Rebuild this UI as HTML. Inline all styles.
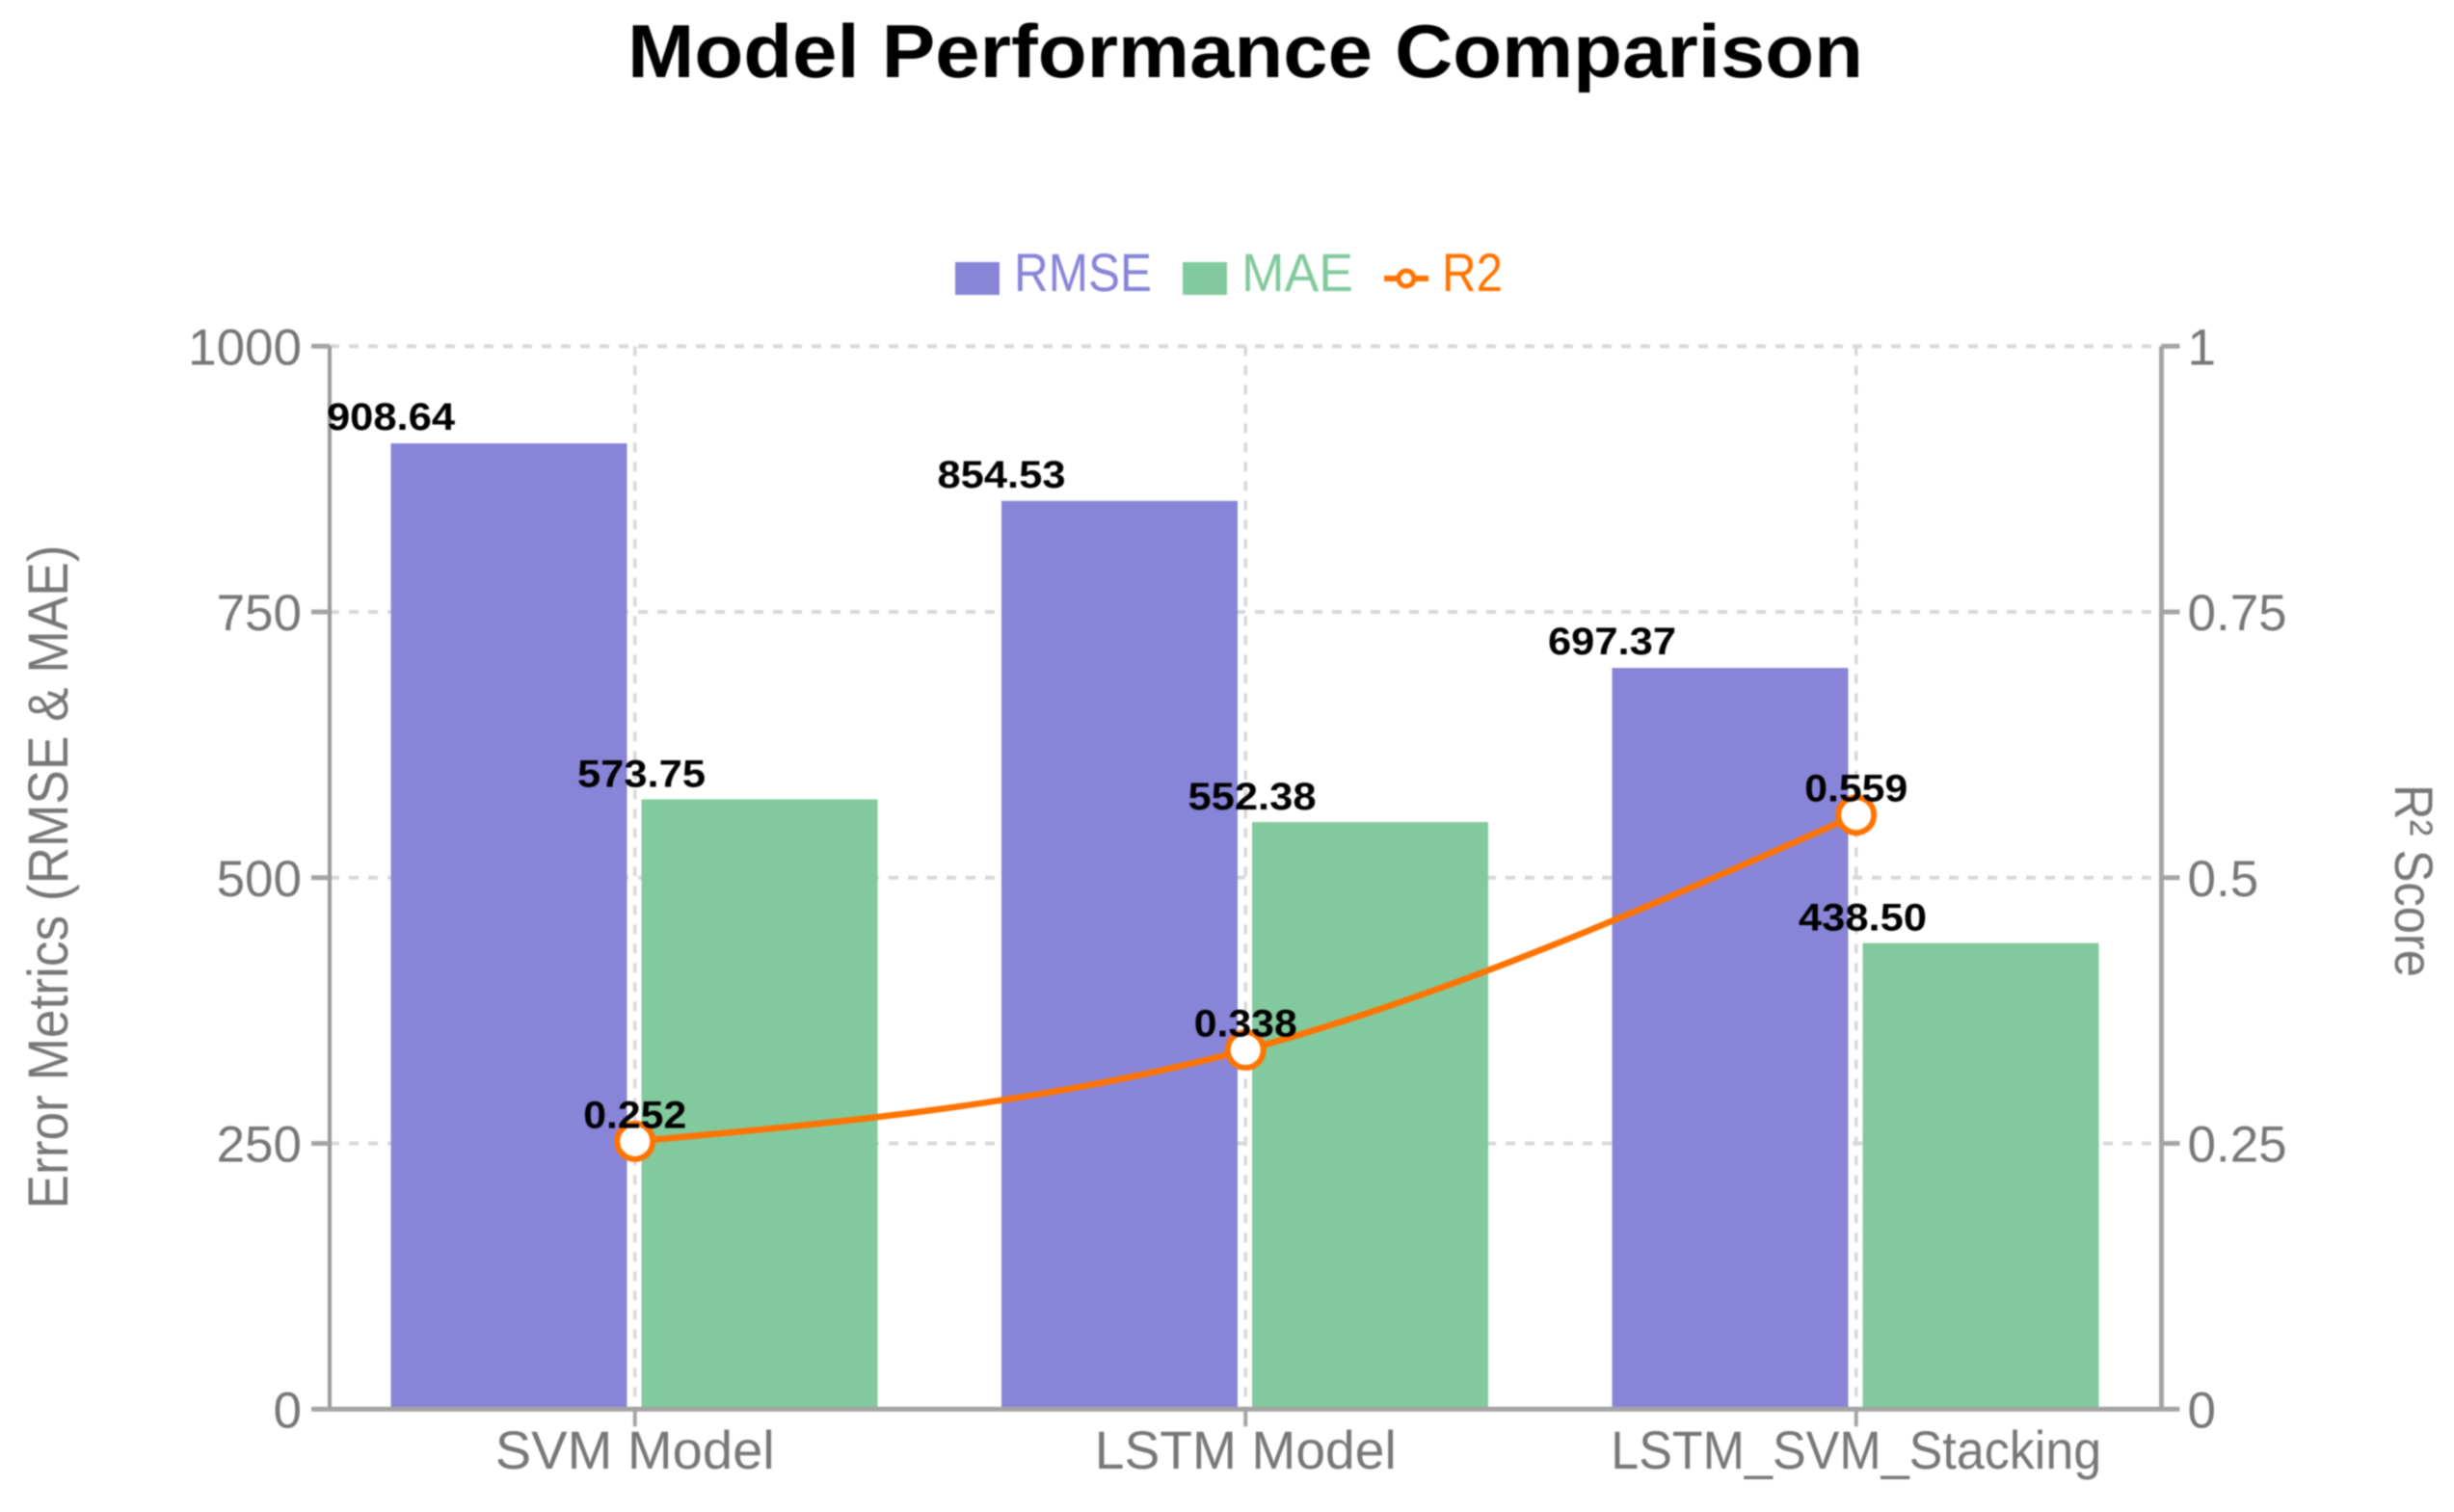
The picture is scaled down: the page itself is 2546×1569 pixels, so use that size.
<!DOCTYPE html>
<html lang="en">
<head>
<meta charset="utf-8">
<title>Model Performance Comparison</title>
<style>
  html, body { margin: 0; padding: 0; background: #fff; }
  body { width: 2546px; height: 1569px; overflow: hidden; }
  svg { display: block; font-family: "Liberation Sans", "Noto Sans CJK SC", sans-serif; filter: blur(0.8px); }
</style>
</head>
<body>
<svg id="chart" xmlns="http://www.w3.org/2000/svg" width="2546" height="1569" viewBox="0 0 2546 1569">
  <rect x="0" y="0" width="2546" height="1569" fill="#ffffff"/>
  <text x="1292" y="80" text-anchor="middle" font-size="78" font-weight="700" fill="#000" textLength="1282" lengthAdjust="spacingAndGlyphs">Model Performance Comparison</text>

  <g>
    <g>
      <rect x="991" y="272" width="46" height="34" fill="#8884d8"/>
      <text x="1052" y="302" font-size="56" fill="#8884d8" textLength="143" lengthAdjust="spacingAndGlyphs">RMSE</text>
    </g>
    <g>
      <rect x="1227" y="272" width="46" height="34" fill="#82ca9d"/>
      <text x="1288" y="302" font-size="56" fill="#82ca9d" textLength="116" lengthAdjust="spacingAndGlyphs">MAE</text>
    </g>
    <g>
      <line x1="1436" y1="289" x2="1482" y2="289" stroke="#ff7300" stroke-width="6"/>
      <circle cx="1459" cy="289" r="8" fill="#fff" stroke="#ff7300" stroke-width="5"/>
      <text x="1496" y="302" font-size="56" fill="#ff7300" textLength="63" lengthAdjust="spacingAndGlyphs">R2</text>
    </g>
  </g>

  <text transform="translate(70 910) rotate(-90)" text-anchor="middle" font-size="58" fill="#777" textLength="689" lengthAdjust="spacingAndGlyphs">Error Metrics (RMSE &amp; MAE)</text>
  <text transform="translate(2485 914) rotate(90)" text-anchor="middle" font-size="56" fill="#777" textLength="200" lengthAdjust="spacingAndGlyphs">R² Score</text>

  <g id="grid"></g>
  <g id="bars"></g>
  <g id="axes"></g>
  <g id="line-layer"></g>
  <g id="labels"></g>
</svg>

<script>
const categories = ["SVM Model", "LSTM Model", "LSTM_SVM_Stacking"];
const rmseValues = [908.64, 854.53, 697.37];
const maeValues = [573.75, 552.38, 438.50];
const r2Values = [0.252, 0.338, 0.559];
const errorTicks = [0, 250, 500, 750, 1000];
const r2Ticks = [0, 0.25, 0.5, 0.75, 1];

const plot = { left: 342, right: 2242.5, top: 359.3, bottom: 1462.3 };
const errorMax = 1000;
const r2Max = 1;
const barWidth = 245;
const barGap = 15;
const NS = "http://www.w3.org/2000/svg";

function yError(v) { return plot.bottom - (v / errorMax) * (plot.bottom - plot.top); }
function yR2(v) { return plot.bottom - (v / r2Max) * (plot.bottom - plot.top); }
function xCenter(i) { return plot.left + (plot.right - plot.left) * (i + 0.5) / categories.length; }

function mk(parent, tag, attrs, text) {
  const el = document.createElementNS(NS, tag);
  for (const k in attrs) el.setAttribute(k, attrs[k]);
  if (text !== undefined) el.textContent = text;
  document.getElementById(parent).appendChild(el);
  return el;
}

/* monotone-X curve through the series points */
function monotonePath(pts) {
  const n = pts.length;
  const d = [], m = [];
  for (let i = 0; i < n - 1; i++) d.push((pts[i + 1][1] - pts[i][1]) / (pts[i + 1][0] - pts[i][0]));
  for (let i = 1; i < n - 1; i++) {
    if (d[i - 1] * d[i] <= 0) { m[i] = 0; continue; }
    const h0 = pts[i][0] - pts[i - 1][0], h1 = pts[i + 1][0] - pts[i][0];
    const p = (d[i - 1] * h1 + d[i] * h0) / (h0 + h1);
    const sign = d[i] > 0 ? 1 : -1;
    m[i] = sign * Math.min(Math.abs(d[i - 1]), Math.abs(d[i]), 0.5 * Math.abs(p)) * 2;
  }
  m[0] = (3 * d[0] - m[1]) / 2;
  m[n - 1] = (3 * d[n - 2] - m[n - 2]) / 2;
  let path = "M" + pts[0][0] + "," + pts[0][1];
  for (let i = 0; i < n - 1; i++) {
    const h = (pts[i + 1][0] - pts[i][0]) / 3;
    path += "C" + (pts[i][0] + h) + "," + (pts[i][1] + h * m[i]) + "," + (pts[i + 1][0] - h) + "," + (pts[i + 1][1] - h * m[i + 1]) + "," + pts[i + 1][0] + "," + pts[i + 1][1];
  }
  return path;
}

/* grid */
errorTicks.forEach(function (t) {
  if (t === 0) return;
  const g = mk("grid", "line", { x1: plot.left, x2: plot.right, y1: yError(t), y2: yError(t), stroke: "#d8d8d8", "stroke-width": 4, "stroke-dasharray": "10 10" });
  
  
});
categories.forEach(function (c, i) {
  const g = mk("grid", "line", { x1: xCenter(i), x2: xCenter(i), y1: plot.top, y2: plot.bottom, stroke: "#d8d8d8", "stroke-width": 3.5, "stroke-dasharray": "10 10" });
  
  
});

/* bars */
categories.forEach(function (c, i) {
  const cx = xCenter(i) - 0.75;
  const rx = cx - barGap / 2 - barWidth;
  const r = mk("bars", "rect", { x: rx, y: yError(rmseValues[i]), width: barWidth, height: plot.bottom - yError(rmseValues[i]), fill: "#8884d8" });
  
  
  const mx = cx + barGap / 2;
  const a = mk("bars", "rect", { x: mx, y: yError(maeValues[i]), width: barWidth, height: plot.bottom - yError(maeValues[i]), fill: "#82ca9d" });
  
  
});

/* axes */
const axisLeft = mk("axes", "line", { x1: plot.left, x2: plot.left, y1: plot.top, y2: plot.bottom, stroke: "#999", "stroke-width": 4 });


const axisRight = mk("axes", "line", { x1: plot.right, x2: plot.right, y1: plot.top, y2: plot.bottom, stroke: "#a4a4a4", "stroke-width": 5 });


const axisBottom = mk("axes", "line", { x1: plot.left, x2: plot.right, y1: plot.bottom, y2: plot.bottom, stroke: "#a4a4a4", "stroke-width": 5 });



errorTicks.forEach(function (t) {
  const y = yError(t);
  const k = mk("axes", "line", { x1: plot.left - 19, x2: plot.left, y1: y, y2: y, stroke: "#a4a4a4", "stroke-width": 5 });
  
  
  const l = mk("axes", "text", { x: plot.left - 29, y: y + 19, "text-anchor": "end", "font-size": 53, fill: "#777" }, String(t));
  
  
});
r2Ticks.forEach(function (t) {
  const y = yR2(t);
  const k = mk("axes", "line", { x1: plot.right, x2: plot.right + 19, y1: y, y2: y, stroke: "#a4a4a4", "stroke-width": 5 });
  
  
  const l = mk("axes", "text", { x: plot.right + 27, y: y + 19, "font-size": 53, fill: "#777" }, String(t));
  
  
});
categories.forEach(function (c, i) {
  const x = xCenter(i);
  const k = mk("axes", "line", { x1: x, x2: x, y1: plot.bottom, y2: plot.bottom + 18, stroke: "#a4a4a4", "stroke-width": 4 });
  
  
  const l = mk("axes", "text", { x: x, y: 1524, "text-anchor": "middle", "font-size": 56, fill: "#777", textLength: [290, 313, 509][i], lengthAdjust: "spacingAndGlyphs" }, c);
  
  
});

/* r2 line */
const r2Points = r2Values.map(function (v, i) { return [xCenter(i), yR2(v)]; });
const r2Line = mk("line-layer", "path", { d: monotonePath(r2Points), fill: "none", stroke: "#ff7300", "stroke-width": 6.5 });


r2Points.forEach(function (p) {
  const dot = mk("line-layer", "circle", { cx: p[0], cy: p[1], r: 18.5, fill: "#fff", stroke: "#ff7300", "stroke-width": 6 });
  
  
});

/* value labels */
categories.forEach(function (c, i) {
  const cx = xCenter(i) - 0.75;
  const rl = mk("labels", "text", { x: cx - barGap / 2 - barWidth, y: yError(rmseValues[i]) - 14, "text-anchor": "middle", "font-size": 40, "font-weight": 700, fill: "#000", textLength: 133, lengthAdjust: "spacingAndGlyphs" }, rmseValues[i].toFixed(2));
  
  
  const ml = mk("labels", "text", { x: cx + barGap / 2, y: yError(maeValues[i]) - 13, "text-anchor": "middle", "font-size": 40, "font-weight": 700, fill: "#000", textLength: 133, lengthAdjust: "spacingAndGlyphs" }, maeValues[i].toFixed(2));
  
  
  const r2l = mk("labels", "text", { x: xCenter(i), y: yR2(r2Values[i]) - 14, "text-anchor": "middle", "font-size": 40, "font-weight": 700, fill: "#000", textLength: 107, lengthAdjust: "spacingAndGlyphs" }, r2Values[i].toFixed(3));
  
  
});
</script>
</body>
</html>
